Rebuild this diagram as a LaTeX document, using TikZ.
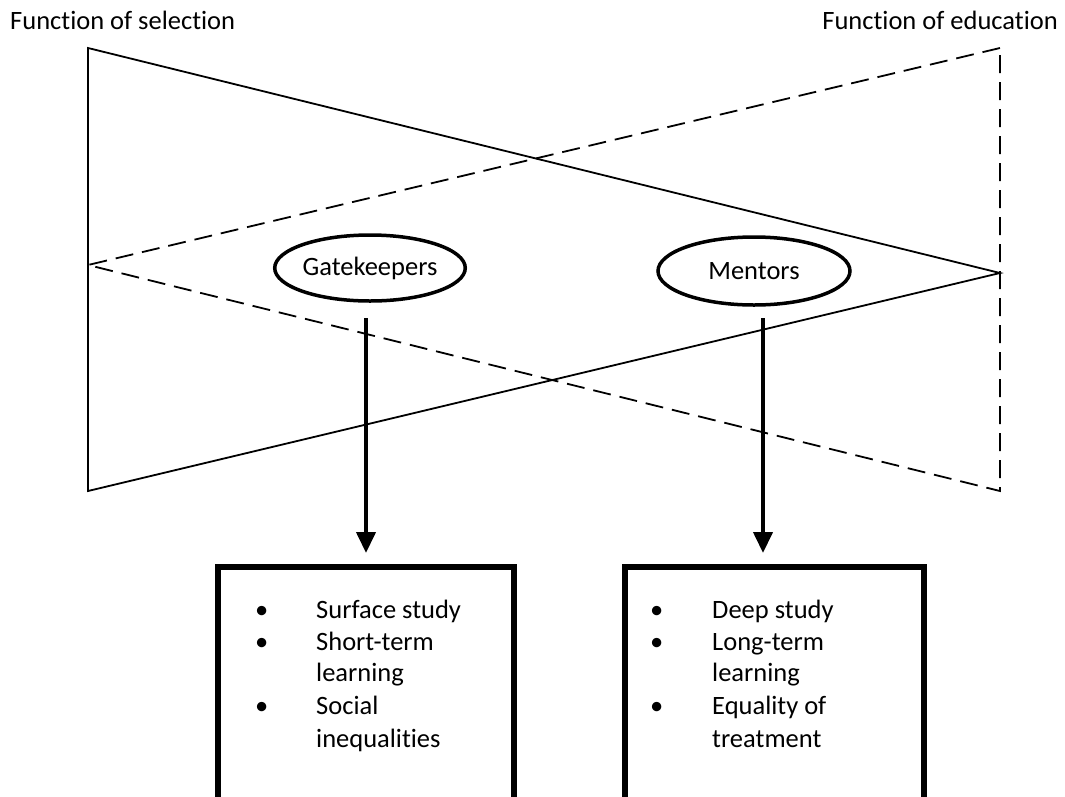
\documentclass[tikz,border=0pt]{standalone}
\usepackage{fontspec}
\setmainfont{Carlito}[Ligatures=NoCommon]
\usetikzlibrary{arrows.meta,shapes.geometric}
\begin{document}
\begin{tikzpicture}[x=1pt,y=-1pt,
  tri/.style={line width=1.8pt, line join=miter},
  dtri/.style={line width=1.8pt, dash pattern=on 18pt off 9pt},
  role/.style={ellipse, draw, line width=3.5pt, inner sep=0pt},
  outcome/.style={draw, line width=6pt, outer sep=0pt},
  flow/.style={line width=4pt, -{Triangle[width=19pt,length=21pt]}},
  lbl/.style={font=\fontsize{26.5}{32}\selectfont, inner sep=0pt},
  item/.style={font=\fontsize{26.5}{32}\selectfont, inner sep=0pt, anchor=base west}
]
\clip (0,0) rectangle (1065,796);
\useasboundingbox (0,0) rectangle (1065,796);
\fill[white] (0,0) rectangle (1065,796);

% titles
\node[lbl, anchor=west] (tsel) at (10,20) {Function of selection};
\node[lbl, anchor=east] (tedu) at (1058,20) {Function of education};

% solid triangle (selection)
\coordinate (s1) at (88,48);
\coordinate (s2) at (88,491);
\coordinate (s3) at (1000,273);
\draw[tri] (s1) -- (s3) -- (s2) -- cycle;

% dashed triangle (education)
\coordinate (e1) at (1000,48);
\coordinate (e2) at (1000,491);
\coordinate (e3) at (88,265);
\draw[dtri] (e1) -- (e3) -- (e2) -- cycle;

% ellipses
\node[role, minimum width=188pt, minimum height=66pt, lbl] (gk) at (370,268) {Gatekeepers};
\node[role, minimum width=192pt, minimum height=68pt, lbl] (mt) at (754,271) {Mentors};

% boxes
\node[outcome, minimum width=296pt, minimum height=236pt, anchor=north west] (bl) at (218,567) {};
\node[outcome, minimum width=299pt, minimum height=236pt, anchor=north west] (br) at (625,567) {};

% arrows
\coordinate (ga) at (366,318);
\coordinate (gb) at (366,553);
\coordinate (ma) at (763,318);
\coordinate (mb) at (763,553);
\draw[flow] (ga) -- (gb);
\draw[flow] (ma) -- (mb);

% left box text
\node[item] (l1b) at (255,618) {•};
\node[item] (l1) at (316,618) {Surface study};
\node[item] (l2b) at (255,650) {•};
\node[item] (l2) at (316,650) {Short-term};
\node[item] (l3) at (316,681) {learning};
\node[item] (l4b) at (255,714) {•};
\node[item] (l4) at (316,714) {Social};
\node[item] (l5) at (316,747) {inequalities};

% right box text
\node[item] (r1b) at (650,618) {•};
\node[item] (r1) at (712,618) {Deep study};
\node[item] (r2b) at (650,650) {•};
\node[item] (r2) at (712,650) {Long-term};
\node[item] (r3) at (712,681) {learning};
\node[item] (r4b) at (650,714) {•};
\node[item] (r4) at (712,714) {Equality of};
\node[item] (r5) at (712,747) {treatment};
\end{tikzpicture}
\end{document}
